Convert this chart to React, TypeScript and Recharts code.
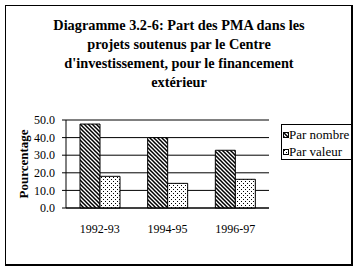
import React from "react";
import {
  BarChart,
  Bar,
  XAxis,
  YAxis,
  CartesianGrid,
  ReferenceLine,
} from "recharts";

const categories = ["1992-93", "1994-95", "1996-97"];
const parNombre = [47.7, 40.0, 32.8];
const parValeur = [18.0, 14.0, 16.3];
const yTicks = [0, 10, 20, 30, 40, 50];
const boundaryTicks = [0, 1, 2, 3];
const seriesNames = ["Par nombre", "Par valeur"];
const titleLines = [
  "Diagramme 3.2-6: Part des PMA dans les",
  "projets soutenus par le Centre",
  "d'investissement, pour le financement",
  "extérieur",
];
const yTitle = "Pourcentage";

const data = categories.map((c, i) => ({
  cat: c,
  nombre: parNombre[i],
  valeur: parValeur[i],
}));

const SERIF = "Liberation Serif, Times New Roman, serif";

const PatternDefs = ({ prefix }: { prefix: string }) => (
  <defs>
    <pattern
      id={prefix + "hatch"}
      patternUnits="userSpaceOnUse"
      width={4}
      height={4}
    >
      <rect width={4} height={4} fill="#fff" />
      <path
        d="M-1,-1 L5,5 M-1,3 L1,5 M3,-1 L5,1"
        stroke="#000"
        strokeWidth={1.5}
      />
    </pattern>
    <pattern
      id={prefix + "dots"}
      patternUnits="userSpaceOnUse"
      width={4}
      height={4}
    >
      <rect width={4} height={4} fill="#fff" />
      <rect x={1} y={1} width={1} height={1} fill="#000" />
      <rect x={3} y={3} width={1} height={1} fill="#000" />
    </pattern>
  </defs>
);

const LegendBox = () => (
  <div
    style={{
      position: "absolute",
      left: 281,
      top: 124,
      width: 71,
      height: 36,
      boxSizing: "border-box",
      border: "1px solid #000",
      background: "#fff",
      fontFamily: SERIF,
      fontSize: 13,
      color: "#000",
      paddingLeft: 0,
      paddingTop: 1,
    }}
  >
    {seriesNames.map((name, i) => (
      <div
        key={name}
        style={{
          display: "flex",
          alignItems: "center",
          height: 17,
          whiteSpace: "nowrap",
        }}
      >
        <svg width={6} height={6} style={{ marginRight: 0, marginLeft: 1 }}>
          <PatternDefs prefix={"lg" + i} />
          <rect
            x={0.5}
            y={0.5}
            width={5}
            height={5}
            fill={`url(#lg${i}${i === 0 ? "hatch" : "dots"})`}
            stroke="#000"
          />
        </svg>
        <span>{name}</span>
      </div>
    ))}
  </div>
);

export default function App() {
  return (
    <div
      style={{
        position: "absolute",
        left: 0,
        top: 0,
        width: 357,
        height: 272,
        background: "#fff",
        fontFamily: SERIF,
      }}
    >
      <div
        style={{
          position: "absolute",
          left: 5,
          top: 5,
          width: 348,
          height: 261,
          boxSizing: "border-box",
          borderLeft: "1px solid #000",
          borderTop: "1px solid #000",
          borderRight: "2px solid #000",
          borderBottom: "2px solid #000",
        }}
      />
      <div
        style={{
          position: "absolute",
          left: 0,
          top: 16,
          width: 358,
          textAlign: "center",
          fontWeight: 700,
          fontSize: 14.3,
          lineHeight: "19px",
          color: "#000",
        }}
      >
        {titleLines.map((l) => (
          <div key={l}>{l}</div>
        ))}
      </div>
      <div
        style={{
          position: "absolute",
          left: 24,
          top: 164,
          transform: "translate(-50%, -50%) rotate(-90deg)",
          fontWeight: 700,
          fontSize: 13,
          whiteSpace: "nowrap",
          color: "#000",
        }}
      >
        {yTitle}
      </div>
      <div style={{ position: "absolute", left: 0, top: 0 }}>
        <BarChart
          width={357}
          height={272}
          data={data}
          margin={{ top: 120, right: 88, bottom: 34, left: 6 }}
          barCategoryGap={14}
          barGap={0}
        >
          <PatternDefs prefix="bar" />
          <CartesianGrid vertical={false} stroke="#000" />
          <XAxis
            xAxisId="b"
            type="number"
            domain={[0, 3]}
            ticks={boundaryTicks}
            interval={0}
            tick={false}
            tickSize={4}
            tickLine={{ stroke: "#000" }}
            axisLine={false}
            height={0}
          />
          <XAxis
            dataKey="cat"
            tickLine={false}
            tickSize={4}
            tickMargin={12}
            axisLine={{ stroke: "#000" }}
            height={30}
            interval={0}
            tick={{ fill: "#000", fontSize: 12, fontFamily: SERIF }}
          />
          <YAxis
            domain={[0, 50]}
            ticks={yTicks}
            interval={0}
            width={60}
            tickSize={4}
            tickMargin={7}
            tickFormatter={(v: number) => v.toFixed(1)}
            axisLine={{ stroke: "#000" }}
            tickLine={{ stroke: "#000" }}
            tick={{ fill: "#000", fontSize: 12, fontFamily: SERIF }}
          />
          <YAxis
            yAxisId="r"
            orientation="right"
            domain={[0, 50]}
            width={0}
            tick={false}
            tickLine={false}
            axisLine={{ stroke: "#808080" }}
          />
          <ReferenceLine y={50} stroke="#808080" />
          <Bar
            dataKey="nombre"
            name={seriesNames[0]}
            fill="url(#barhatch)"
            stroke="#000"
            strokeWidth={1}
            isAnimationActive={false}
          />
          <Bar
            dataKey="valeur"
            name={seriesNames[1]}
            fill="url(#bardots)"
            stroke="#000"
            strokeWidth={1}
            isAnimationActive={false}
          />
        </BarChart>
      </div>
      <LegendBox />
    </div>
  );
}
